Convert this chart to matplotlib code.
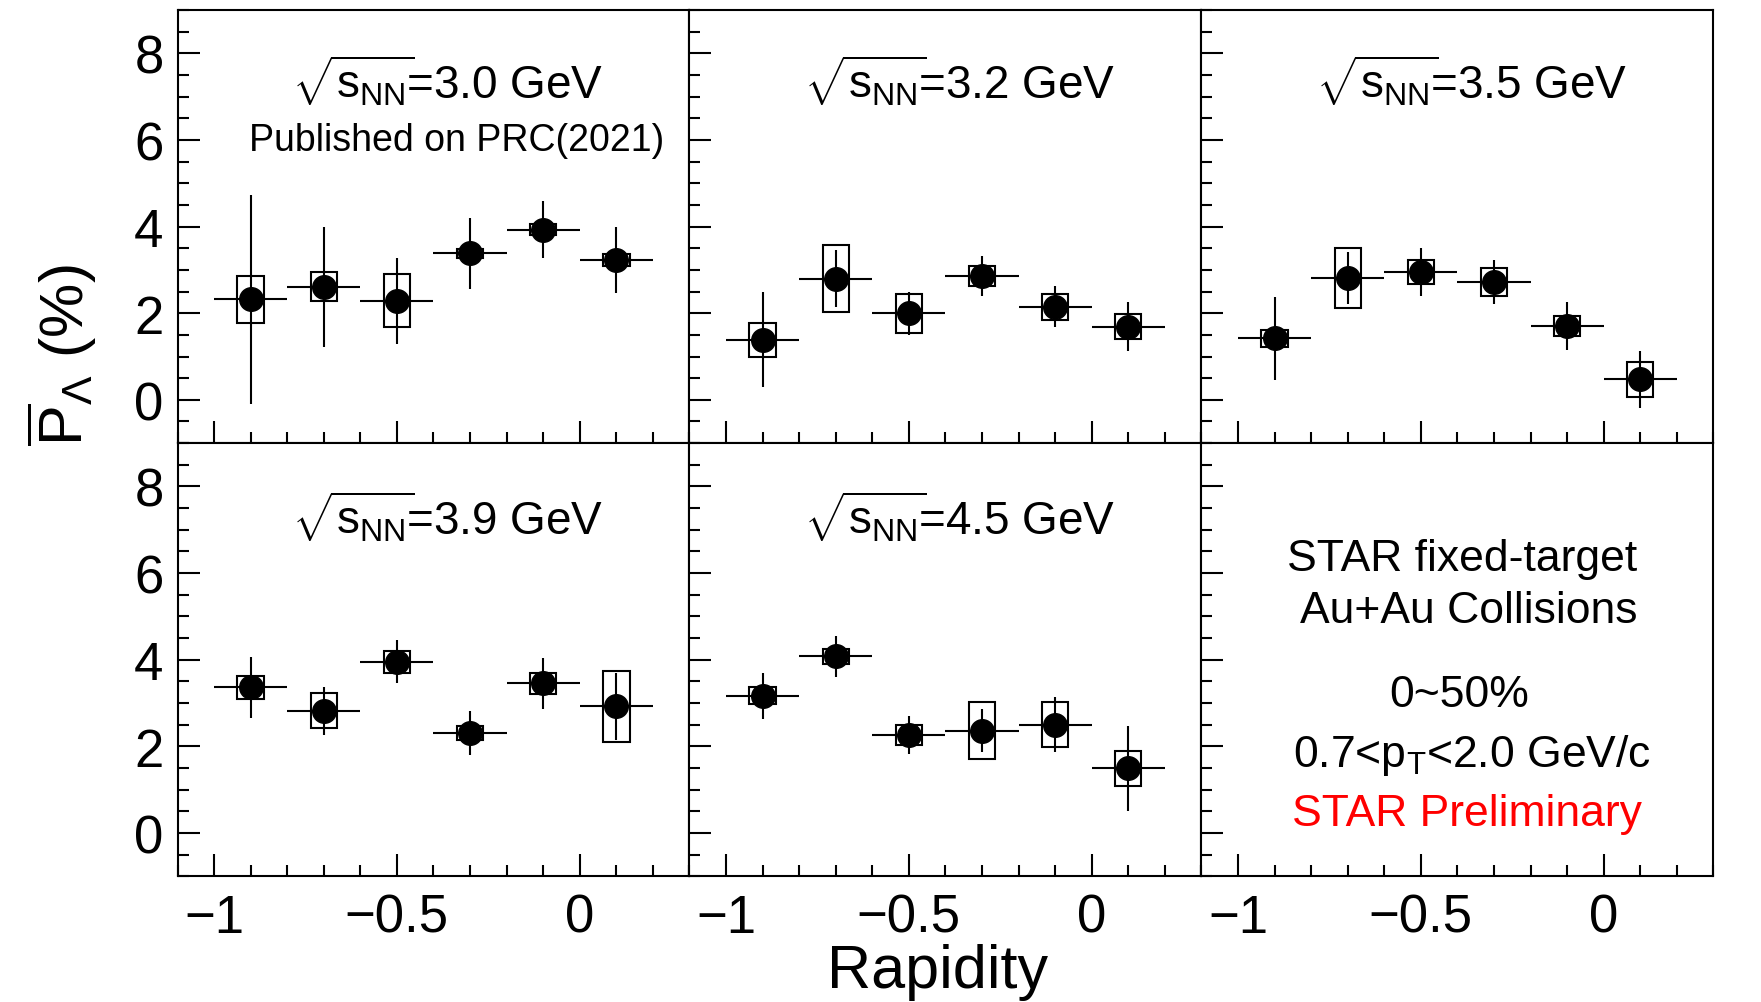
import numpy as np
import matplotlib
matplotlib.use('Agg')
import matplotlib.pyplot as plt
from matplotlib.ticker import MultipleLocator, FuncFormatter

plt.rcParams['font.family'] = ['Liberation Sans', 'DejaVu Sans']
plt.rcParams['mathtext.fontset'] = 'custom'
plt.rcParams['mathtext.rm'] = 'Liberation Sans'
plt.rcParams['mathtext.it'] = 'Liberation Sans:italic'
plt.rcParams['mathtext.bf'] = 'Liberation Sans:bold'

# data: Lambda-bar polarization vs rapidity, 0-50% Au+Au
rapidity = [-0.9, -0.7, -0.5, -0.3, -0.1, 0.1]
bin_half = 0.1
energies = ['3.0', '3.2', '3.5', '3.9', '4.5']

pol_30 = [2.32, 2.61, 2.29, 3.38, 3.93, 3.23]
stat_30 = [2.42, 1.39, 0.99, 0.81, 0.65, 0.77]
sys_30 = [0.55, 0.33, 0.62, 0.10, 0.13, 0.13]

pol_32 = [1.39, 2.80, 2.00, 2.86, 2.15, 1.69]
stat_32 = [1.10, 0.65, 0.50, 0.47, 0.47, 0.56]
sys_32 = [0.39, 0.78, 0.45, 0.24, 0.30, 0.28]

pol_35 = [1.42, 2.81, 2.95, 2.72, 1.71, 0.47]
stat_35 = [0.96, 0.60, 0.55, 0.50, 0.55, 0.66]
sys_35 = [0.20, 0.69, 0.28, 0.33, 0.23, 0.40]

pol_39 = [3.36, 2.82, 3.95, 2.31, 3.45, 2.92]
stat_39 = [0.70, 0.55, 0.50, 0.50, 0.58, 0.78]
sys_39 = [0.27, 0.40, 0.25, 0.16, 0.25, 0.81]

pol_45 = [3.17, 4.08, 2.27, 2.36, 2.50, 1.49]
stat_45 = [0.53, 0.47, 0.44, 0.50, 0.63, 0.98]
sys_45 = [0.19, 0.17, 0.23, 0.66, 0.52, 0.41]

panels = [(pol_30, stat_30, sys_30), (pol_32, stat_32, sys_32),
          (pol_35, stat_35, sys_35), (pol_39, stat_39, sys_39),
          (pol_45, stat_45, sys_45)]

fig, axes = plt.subplots(2, 3, figsize=(17.61, 10.03), dpi=100, sharex=True, sharey=True)
fig.subplots_adjust(left=0.1008, right=0.973, top=0.989, bottom=0.1254, wspace=0, hspace=0)

fmt = FuncFormatter(lambda v, _: f'{v:g}'.replace('-', '\u2212'))

for i, ax in enumerate(axes.flat):
    ax.set_xlim(-1.1, 0.3)
    ax.set_ylim(-1, 9)
    ax.xaxis.set_major_locator(MultipleLocator(0.5))
    ax.xaxis.set_minor_locator(MultipleLocator(0.1))
    ax.yaxis.set_major_locator(MultipleLocator(2))
    ax.yaxis.set_minor_locator(MultipleLocator(0.5))
    ax.xaxis.set_major_formatter(fmt)
    ax.yaxis.set_major_formatter(fmt)
    ax.tick_params(which='both', direction='in', top=False, right=False, width=1.5, labelsize=38)
    ax.tick_params(which='major', length=16)
    ax.tick_params(which='minor', length=8)
    ax.tick_params(axis='x', pad=12)
    ax.tick_params(axis='y', pad=10)
    for s in ax.spines.values():
        s.set_linewidth(1.5)

    if i < 5:
        pol, stat, sys = panels[i]
        pol = np.array(pol)
        sys = np.array(sys)
        # systematic boxes
        ax.bar(rapidity, 2 * sys, width=0.072, bottom=pol - sys, fill=False,
               edgecolor='black', linewidth=1.5, zorder=2)
        ax.errorbar(rapidity, pol, xerr=bin_half, yerr=stat, fmt='o', color='black',
                    ms=17, elinewidth=1.5, capsize=0, zorder=3)
        ty = 0.839 if i < 3 else 0.832
        ax.text(0.527, ty, r'$\sqrt{\mathrm{s_{NN}}}\!$=' + energies[i] + ' GeV',
                transform=ax.transAxes, ha='center', va='center', fontsize=33)

axes[0, 0].text(0.545, 0.699, 'Published on PRC(2021)', transform=axes[0, 0].transAxes,
                ha='center', va='center', fontsize=27)

ax6 = axes[1, 2]
ax6.text(0.509, 0.733, 'STAR fixed-target', transform=ax6.transAxes, ha='center', va='center', fontsize=32)
ax6.text(0.522, 0.614, 'Au+Au Collisions', transform=ax6.transAxes, ha='center', va='center', fontsize=32)
ax6.text(0.504, 0.42, '0~50%', transform=ax6.transAxes, ha='center', va='center', fontsize=32)
ax6.text(0.528, 0.282, r'0.7<$\mathrm{p_T}$<2.0 GeV/c', transform=ax6.transAxes, ha='center', va='center', fontsize=32)
ax6.text(0.518, 0.145, 'STAR Preliminary', transform=ax6.transAxes, ha='center', va='center', fontsize=32, color='red')

fig.text(0.035, 0.646, r'$\overline{\mathrm{P}}_{\Lambda}$ (%)', rotation=90, ha='center', va='center', fontsize=44)
fig.text(0.5325, 0.015, 'Rapidity', ha='center', va='baseline', fontsize=44)

fig.savefig('out.png', dpi=100)
